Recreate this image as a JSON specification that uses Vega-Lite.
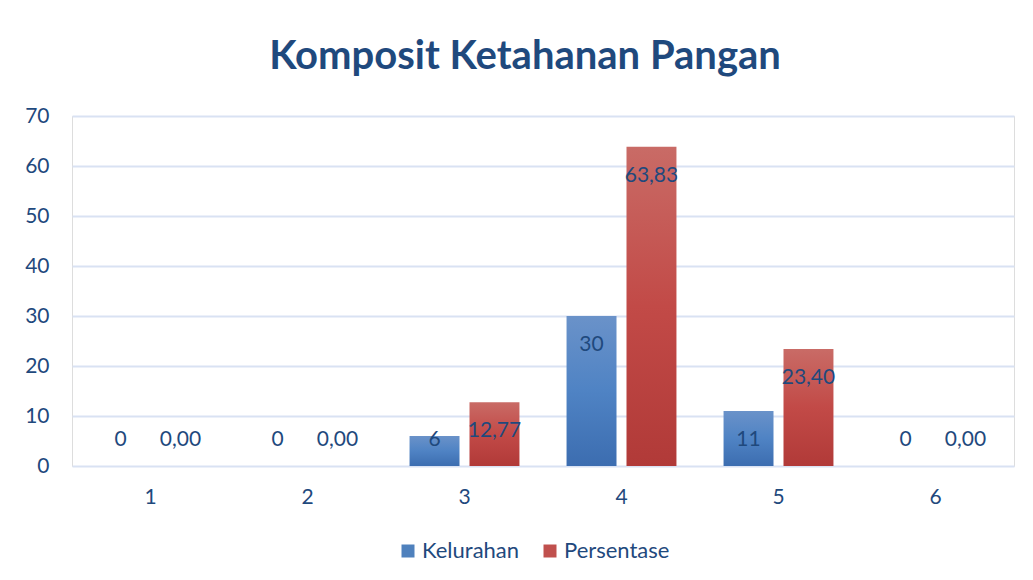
{
  "$schema": "https://vega.github.io/schema/vega-lite/v6.json",
  "width": 942,
  "height": 350,
  "autosize": "none",
  "padding": {"left": 72, "top": 116, "right": 19, "bottom": 114},
  "background": "white",
  "title": {"text": "Komposit Ketahanan Pangan", "font": "Lato", "fontSize": 40, "fontWeight": "bold", "color": "#1F497D", "anchor": "middle", "dx": -18, "offset": 28},
  "data": {"values": [
    {"cat": "1", "series": "Kelurahan", "value": 0},
    {"cat": "1", "series": "Persentase", "value": 0},
    {"cat": "2", "series": "Kelurahan", "value": 0},
    {"cat": "2", "series": "Persentase", "value": 0},
    {"cat": "3", "series": "Kelurahan", "value": 6},
    {"cat": "3", "series": "Persentase", "value": 12.77},
    {"cat": "4", "series": "Kelurahan", "value": 30},
    {"cat": "4", "series": "Persentase", "value": 63.83},
    {"cat": "5", "series": "Kelurahan", "value": 11},
    {"cat": "5", "series": "Persentase", "value": 23.40},
    {"cat": "6", "series": "Kelurahan", "value": 0},
    {"cat": "6", "series": "Persentase", "value": 0}
  ]},
  "transform": [
    {"calculate": "max(datum.value, 11)", "as": "labelPos"},
    {"calculate": "datum.series === 'Persentase' ? replace(format(datum.value, '.2f'), '.', ',') : format(datum.value, 'd')", "as": "label"}
  ],
  "encoding": {
    "x": {"field": "cat", "type": "ordinal", "title": null,
      "scale": {"paddingInner": 0.3, "paddingOuter": 0.15},
      "axis": {"labelAngle": 0, "ticks": false, "domain": false, "grid": false, "labelPadding": 20, "labelFontSize": 21, "labelFont": "Lato", "labelColor": "#1F497D"}},
    "xOffset": {"field": "series", "type": "nominal", "scale": {"paddingInner": 0.1667, "paddingOuter": 0}},
    "y": {"field": "value", "type": "quantitative", "title": null,
      "scale": {"domain": [0, 70], "nice": false},
      "axis": {"values": [0, 10, 20, 30, 40, 50, 60, 70], "ticks": false, "domain": false, "gridColor": "#D9E2F3", "gridWidth": 2, "labelPadding": 23, "labelFontSize": 21, "labelFont": "Lato", "labelColor": "#1F497D"}}
  },
  "layer": [
    {
      "mark": {"type": "bar", "opacity": 0},
      "encoding": {
        "color": {"field": "series", "type": "nominal", "scale": {"domain": ["Kelurahan", "Persentase"], "range": ["#4F81BD", "#C0504D"]},
          "legend": {"orient": "none", "legendX": 325, "legendY": 424, "padding": 0, "title": null, "direction": "horizontal", "symbolType": "square", "symbolSize": 169, "symbolOpacity": 1, "symbolStrokeWidth": 0, "labelFontSize": 22, "labelFont": "Lato", "labelColor": "#1F497D", "labelOffset": 3, "columnPadding": 19}}
      }
    },
    {
      "mark": {"type": "bar"},
      "encoding": {
        "fill": {
          "condition": {"test": "datum.series === 'Kelurahan'", "value": {"gradient": "linear", "x1": 0, "y1": 0, "x2": 0, "y2": 1, "stops": [{"offset": 0, "color": "#6A92C9"}, {"offset": 0.5, "color": "#4F83C4"}, {"offset": 1, "color": "#3C6DB0"}]}},
          "value": {"gradient": "linear", "x1": 0, "y1": 0, "x2": 0, "y2": 1, "stops": [{"offset": 0, "color": "#C96B66"}, {"offset": 0.5, "color": "#C24A47"}, {"offset": 1, "color": "#B13A38"}]}
        }
      }
    },
    {
      "mark": {"type": "text", "baseline": "middle", "align": "center", "dy": 29, "fontSize": 21, "font": "Lato", "color": "#1F497D"},
      "encoding": {
        "y": {"field": "labelPos", "type": "quantitative"},
        "text": {"field": "label", "type": "nominal"}
      }
    }
  ]
}
